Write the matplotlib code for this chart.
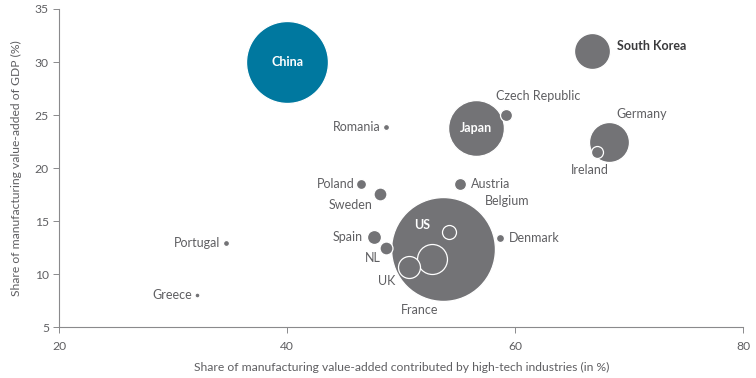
import matplotlib
matplotlib.use("Agg")
import matplotlib.pyplot as plt
import numpy as np

plt.rcParams['font.family'] = ['Lato', 'DejaVu Sans']

countries = ["China", "US", "Japan", "Germany", "South Korea", "France", "UK",
             "Belgium", "Spain", "NL", "Sweden", "Czech Republic", "Ireland",
             "Austria", "Poland", "Denmark", "Romania", "Portugal", "Greece"]
hightech = np.array([40.0, 53.7, 56.6, 68.2, 66.7, 52.7, 50.7,
                     54.2, 47.6, 48.7, 48.1, 59.2, 67.2,
                     55.15, 46.5, 58.65, 48.65, 34.6, 32.05])
mfg_gdp = np.array([30.0, 12.4, 23.8, 22.5, 31.05, 11.45, 10.7,
                    14.0, 13.55, 12.5, 17.55, 25.0, 21.55,
                    18.5, 18.55, 13.45, 23.85, 12.95, 8.05])
bubble = np.array([1680, 2700, 780, 400, 324, 225, 121,
                   49, 49, 42, 42, 36, 36,
                   36, 25, 16, 9, 9, 6])

# label placement: (dx, dy) in points, horizontal alignment, style
labels = {
    "China": (0, 0, "center", "inside"),
    "US": (-15, 17, "center", "inside"),
    "Japan": (0, 0, "center", "inside"),
    "South Korea": (18, 3.5, "left", "bold"),
    "Germany": (24, 20, "center", "plain"),
    "France": (-9, -37, "center", "plain"),
    "UK": (-16.5, -10, "center", "plain"),
    "Belgium": (26, 22, "left", "plain"),
    "Spain": (-8, 0, "right", "plain"),
    "NL": (-10, -7, "center", "plain"),
    "Sweden": (-21, -8, "center", "plain"),
    "Czech Republic": (23, 14, "center", "plain"),
    "Ireland": (-5, -13, "center", "plain"),
    "Austria": (8, 0, "left", "plain"),
    "Poland": (-5, 0, "right", "plain"),
    "Denmark": (6.5, 0, "left", "plain"),
    "Romania": (-4, 0, "right", "plain"),
    "Portugal": (-4, 0, "right", "plain"),
    "Greece": (-3.5, 0, "right", "plain"),
}

grey = "#737376"
teal = "#00789f"
txt = "#5f5f62"

fig = plt.figure(figsize=(7.56, 3.78), dpi=100)
ax = fig.add_axes([0.0784, 0.1336, 0.9046, 0.8426])

order = np.argsort(-bubble)
for i in order:
    c = teal if countries[i] == "China" else grey
    ax.scatter(hightech[i], mfg_gdp[i], s=bubble[i] * 2.07, color=c,
               edgecolor="white", linewidth=0.9, zorder=2)

for i, name in enumerate(countries):
    dx, dy, ha, style = labels[name]
    if style == "inside":
        kw = dict(color="white", fontweight="bold", fontsize=9)
    elif style == "bold":
        kw = dict(color="#3a3a3c", fontweight="bold", fontsize=9)
    else:
        kw = dict(color=txt, fontsize=9)
    ax.annotate(name, (hightech[i], mfg_gdp[i]), xytext=(dx, dy),
                textcoords="offset points", ha=ha, va="center", zorder=3, **kw)

ax.set_xlim(20, 80)
ax.set_ylim(5, 35)
ax.set_xticks([20, 40, 60, 80])
ax.set_yticks([5, 10, 15, 20, 25, 30, 35])
for s in ["top", "right"]:
    ax.spines[s].set_visible(False)
for s in ["left", "bottom"]:
    ax.spines[s].set_color("#8a8a8c")
    ax.spines[s].set_linewidth(0.8)
ax.tick_params(axis="both", colors="#8a8a8c", labelcolor=txt, labelsize=8.7,
               length=4, width=0.7)
ax.tick_params(axis="x", pad=6)
ax.set_xlabel("Share of manufacturing value-added contributed by high-tech industries (in %)",
              fontsize=8.7, color=txt, labelpad=7)
ax.set_ylabel("Share of manufacturing value-added of GDP (%)", fontsize=8.7,
              color=txt, labelpad=9)

fig.savefig("out.png", dpi=100)
